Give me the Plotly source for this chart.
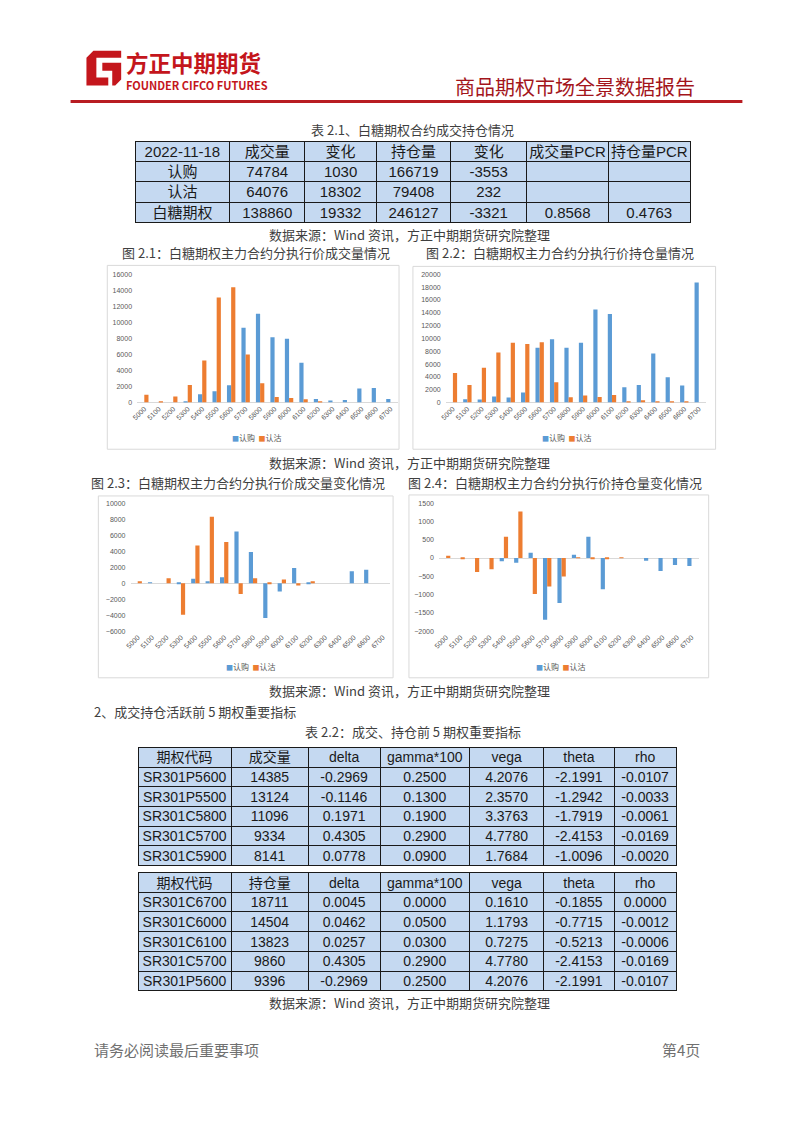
import plotly.graph_objects as go

# The page body has an 8px margin, so the figure is drawn 8px in from the
# window edge; page coordinates below are given in window pixels.
OFF = 8
W, H = 802 - 2 * OFF, 1133 - 2 * OFF


def px(x):
    return (x - OFF) / W


def py(y):
    return 1 - (y - OFF) / H


# ---------------- data ----------------
strikes = ["5000", "5100", "5200", "5300", "5400", "5500", "5600", "5700", "5800",
           "5900", "6000", "6100", "6200", "6300", "6400", "6500", "6600", "6700"]

vol_call = [0, 0, 0, 50, 1040, 1400, 2170, 9334, 11096, 8141, 7950, 4960, 450, 250, 330, 1740, 1820, 450]
vol_put = [960, 130, 750, 2200, 5250, 13124, 14385, 5990, 2400, 700, 560, 400, 50, 0, 0, 0, 0, 0]

oi_call = [0, 520, 470, 930, 780, 1550, 8550, 9860, 8550, 9320, 14504, 13823, 2380, 2750, 7660, 3940, 2640, 18711]
oi_put = [4610, 2750, 5440, 7820, 9320, 9120, 9396, 3160, 830, 1090, 880, 1190, 150, 360, 150, 100, 50, 0]

dvol_call = [0, 80, 0, -80, 540, 160, 740, 6450, 3900, -4350, -1040, 1900, -120, 0, 0, 1490, 1660, 0]
dvol_put = [160, 0, 620, -3940, 4720, 8290, 5140, -1370, 620, -80, 450, -290, 120, 0, 0, 0, 0, 0]

doi_call = [0, 0, 0, 0, -90, -127, 145, -1690, -1233, 90, 580, -852, 0, 0, -73, -354, -190, -218]
doi_put = [63, -27, -380, -308, 580, 1270, -988, -780, -508, 10, -36, -27, 18, 0, 0, 0, 0, 0]

series_names = ["认购", "认沽"]

# table 2.1
t1_header = ["2022-11-18", "成交量", "变化", "持仓量", "变化", "成交量PCR", "持仓量PCR"]
t1_label = ["认购", "认沽", "白糖期权"]
t1_vol = [74784, 64076, 138860]
t1_vol_chg = [1030, 18302, 19332]
t1_oi = [166719, 79408, 246127]
t1_oi_chg = [-3553, 232, -3321]
t1_vol_pcr = ["", "", "0.8568"]
t1_oi_pcr = ["", "", "0.4763"]

# table 2.2 (volume top 5)
greek_header = ["delta", "gamma*100", "vega", "theta", "rho"]
ta_code = ["SR301P5600", "SR301P5500", "SR301C5800", "SR301C5700", "SR301C5900"]
ta_vol = [14385, 13124, 11096, 9334, 8141]
ta_delta = [-0.2969, -0.1146, 0.1971, 0.4305, 0.0778]
ta_gamma = [0.25, 0.13, 0.19, 0.29, 0.09]
ta_vega = [4.2076, 2.3570, 3.3763, 4.7780, 1.7684]
ta_theta = [-2.1991, -1.2942, -1.7919, -2.4153, -1.0096]
ta_rho = [-0.0107, -0.0033, -0.0061, -0.0169, -0.0020]

# table 2.2 (open interest top 5)
tb_code = ["SR301C6700", "SR301C6000", "SR301C6100", "SR301C5700", "SR301P5600"]
tb_oi = [18711, 14504, 13823, 9860, 9396]
tb_delta = [0.0045, 0.0462, 0.0257, 0.4305, -0.2969]
tb_gamma = [0.0, 0.05, 0.03, 0.29, 0.25]
tb_vega = [0.1610, 1.1793, 0.7275, 4.7780, 4.2076]
tb_theta = [-0.1855, -0.7715, -0.5213, -2.4153, -2.1991]
tb_rho = [0.0000, -0.0012, -0.0006, -0.0169, -0.0107]

# ---------------- styles ----------------
CJK = "Noto Sans CJK SC"
TFONT = "Liberation Sans, Noto Sans CJK SC"
BLUE = "#5B9BD5"
ORANGE = "#ED7D31"
TFILL = "#C5D9F1"
RED = "#C4161C"
TXT = "#3f3f3f"
CLEAR = "rgba(0,0,0,0)"

fig = go.Figure()


# ---------------- tables ----------------
# Two stacked go.Table layers: one draws the filled, ruled grid; the other
# (transparent) carries the text, lifted slightly so it sits centred in rows.
def add_table(header, cols, widths, x0, x1, top, rh, fmts=None, lift=3.5, fs=14.5):
    n = len(cols[0]) + 1
    blank_cols = [[""] * len(col) for col in cols]
    fig.add_trace(go.Table(
        columnwidth=widths,
        header=dict(values=[""] * len(header), fill_color=TFILL, line=dict(color="#1a1a1a", width=1),
                    height=rh),
        cells=dict(values=blank_cols, fill_color=TFILL, line=dict(color="#1a1a1a", width=1),
                   height=rh),
        domain=dict(x=[px(x0), px(x1)], y=[py(top + n * rh + 4), py(top)]),
    ))
    fig.add_trace(go.Table(
        columnwidth=widths,
        header=dict(values=header, fill_color=CLEAR, line=dict(color=CLEAR, width=0),
                    align="center", height=rh,
                    font=dict(family=TFONT, size=fs, color="#1a1a1a")),
        cells=dict(values=cols, fill_color=CLEAR, line=dict(color=CLEAR, width=0),
                   align="center", height=rh, format=fmts,
                   font=dict(family=TFONT, size=fs, color="#1a1a1a")),
        domain=dict(x=[px(x0), px(x1)], y=[py(top - lift + n * rh + 4), py(top - lift)]),
    ))


add_table(t1_header,
          [t1_label, t1_vol, t1_vol_chg, t1_oi, t1_oi_chg, t1_vol_pcr, t1_oi_pcr],
          [95.5, 75.7, 72.3, 74.9, 76.8, 82.4, 82.4], 130, 690, 138, 20.4, lift=3.8, fs=15)

w22 = [94, 77.7, 72.6, 90.3, 74.8, 71.2, 62.5]
f22 = [None, None, ".4f", ".4f", ".4f", ".4f", ".4f"]
add_table(["期权代码", "成交量"] + greek_header,
          [ta_code, ta_vol, ta_delta, ta_gamma, ta_vega, ta_theta, ta_rho],
          w22, 133, 676, 748, 19.7, f22, fs=14)
add_table(["期权代码", "持仓量"] + greek_header,
          [tb_code, tb_oi, tb_delta, tb_gamma, tb_vega, tb_theta, tb_rho],
          w22, 133, 676, 874, 19.7, f22, fs=14)

# ---------------- bar charts ----------------
charts = [
    (vol_call, vol_put, (132, 394.6), (272, 401), [0, 16000], 2000, (253, 436)),
    (oi_call, oi_put, (443, 705.3), (272, 401), [0, 20000], 2000, (565, 436)),
    (dvol_call, dvol_put, (125.4, 386.8), (502.3, 631), [-6000, 10000], 2000, (247, 667)),
    (doi_call, doi_put, (436.2, 698), (502.3, 631), [-2000, 1500], 500, (559, 667)),
]

ann = []
layout_axes = {}
for i, (c, p, (x0, x1), (y0, y1), yr, dt, (lx, ly)) in enumerate(charts):
    k = "" if i == 0 else str(i + 1)
    for vals, name, col in ((c, series_names[0], BLUE), (p, series_names[1], ORANGE)):
        fig.add_trace(go.Bar(x=strikes, y=vals, name=name, marker=dict(color=col, line=dict(width=0)),
                             xaxis="x" + k, yaxis="y" + k, showlegend=False))
    layout_axes["xaxis" + k] = dict(domain=[px(x0), px(x1)], anchor="y" + k, type="category",
                                    range=[-0.5, 17.5], tickangle=-45, showgrid=False,
                                    showline=False, ticks="", zeroline=False,
                                    tickfont=dict(family="Liberation Sans", size=7, color="#595959"))
    layout_axes["yaxis" + k] = dict(domain=[py(y1), py(y0)], anchor="x" + k, range=yr, dtick=dt,
                                    tickformat="d",
                                    showgrid=False, showline=False, ticks="", zeroline=True,
                                    zerolinecolor="#d9d9d9", zerolinewidth=1,
                                    ticklabelstandoff=4,
                                    tickfont=dict(family="Liberation Sans", size=7, color="#595959"))
    # compact Excel-style legend
    leg = (f"<span style='color:{BLUE};font-size:7px'>■</span>{series_names[0]}"
           f"&nbsp;&nbsp;<span style='color:{ORANGE};font-size:7px'>■</span>{series_names[1]}")
    ann.append(dict(text=leg, x=px(lx), y=py(ly), xref="paper", yref="paper", xanchor="center",
                    yanchor="middle", showarrow=False, borderpad=0,
                    font=dict(family=CJK, size=8, color="#595959")))

fig.update_layout(**layout_axes)

# ---------------- shapes ----------------
shapes = []
# chart frames
for (a, b, c2, d) in [(102, 263, 396, 448), (410, 264, 715, 448), (93, 495, 390, 678), (406, 494, 708, 678)]:
    shapes.append(dict(type="rect", xref="paper", yref="paper", x0=px(a), x1=px(c2), y0=py(d), y1=py(b),
                       line=dict(color="#d9d9d9", width=1), fillcolor=CLEAR, layer="below"))
# header red rule
shapes.append(dict(type="line", xref="paper", yref="paper", x0=px(65), x1=px(742), y0=py(98), y1=py(98),
                   line=dict(color="#B81C22", width=3)))


def path(pts):
    return "M " + " L ".join(f"{px(x):.5f},{py(y):.5f}" for x, y in pts) + " Z"


# logo (approximate)
shapes.append(dict(type="path", xref="paper", yref="paper",
                   path=path([(81, 54), (88, 47), (116, 47), (116, 54), (91, 54), (91, 74),
                              (103, 74), (103, 82), (81, 82)]),
                   fillcolor=RED, line=dict(width=0)))
shapes.append(dict(type="path", xref="paper", yref="paper",
                   path=path([(97, 59), (116, 59), (116, 76), (110, 82), (107, 82), (107, 67), (97, 67)]),
                   fillcolor=RED, line=dict(width=0)))

fig.update_layout(shapes=shapes)


# ---------------- text ----------------
def text(t, x, y, size=13, color=TXT, anchor="center", family=CJK, bold=False):
    ann.append(dict(text=f"<b>{t}</b>" if bold else t, x=px(x), y=py(y), xref="paper", yref="paper",
                    xanchor=anchor, yanchor="middle", showarrow=False, borderpad=0,
                    font=dict(family=family, size=size, color=color)))


text("方正中期期货", 120, 58.5, size=22.5, color=RED, anchor="left", bold=True)
text("FOUNDER CIFCO FUTURES", 120, 81, size=11, color=RED, anchor="left", bold=True)
text("商品期权市场全景数据报告", 695, 83, size=20, color="#A3151B", anchor="right")

text("表 2.1、白糖期权合约成交持仓情况", 410, 126)
src = "数据来源：Wind 资讯，方正中期期货研究院整理"
text(src, 407, 232)
text("图 2.1：白糖期权主力合约分执行价成交量情况", 116, 250, anchor="left")
text("图 2.2：白糖期权主力合约分执行价持仓量情况", 422, 250, anchor="left")
text(src, 407, 461)
text("图 2.3：白糖期权主力合约分执行价成交量变化情况", 85, 481, anchor="left")
text("图 2.4：白糖期权主力合约分执行价持仓量变化情况", 404, 481, anchor="left")
text(src, 407, 691)
text("2、成交持仓活跃前 5 期权重要指标", 88, 712, anchor="left")
text("表 2.2：成交、持仓前 5 期权重要指标", 410, 732)
text(src, 407, 1005)
text("请务必阅读最后重要事项", 88, 1052, size=15, color="#707070", anchor="left")
text("第4页", 700, 1052, size=15, color="#707070", anchor="right")

fig.update_layout(annotations=ann)

fig.update_layout(
    width=W, height=H, margin=dict(l=0, r=0, t=0, b=0),
    paper_bgcolor="white", plot_bgcolor="white",
    barmode="group", bargap=0.42, bargroupgap=0,
    showlegend=False,
)

fig.write_html("out.html")
